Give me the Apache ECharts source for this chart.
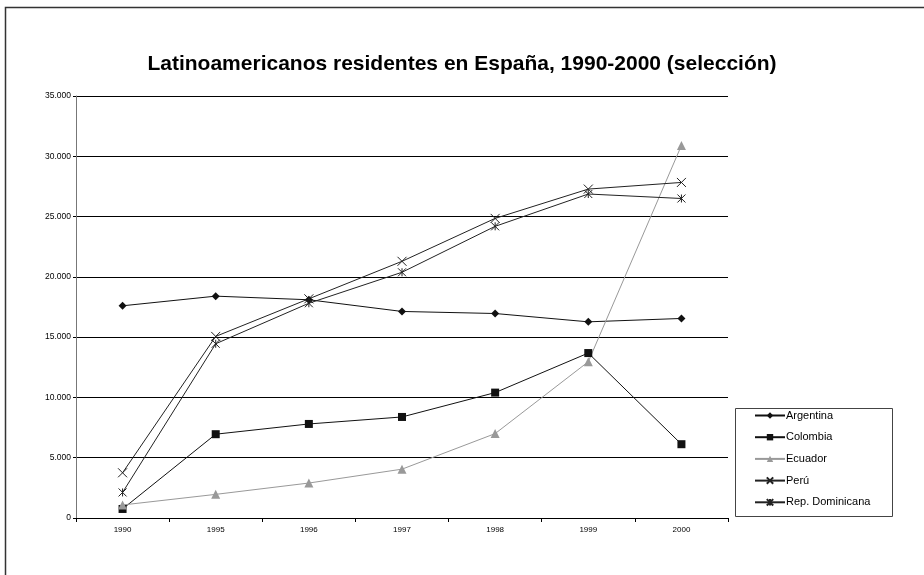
<!DOCTYPE html>
<html>
<head>
<meta charset="utf-8">
<script src="https://cdn.jsdelivr.net/npm/echarts@6/dist/echarts.min.js"></script>
<style>
html,body{margin:0;padding:0;background:#fff;}
#chart{width:924px;height:575px;}
</style>
</head>
<body>
<div id="chart"></div>
<script>
var years = ['1990','1995','1996','1997','1998','1999','2000'];
var argentina = [17600, 18400, 18100, 17130, 16960, 16270, 16550];
var colombia  = [750, 6950, 7800, 8380, 10400, 13680, 6120];
var ecuador   = [1080, 1960, 2900, 4050, 7000, 12960, 30900];
var peru      = [3750, 15060, 18180, 21290, 24850, 27280, 27830];
var repDom    = [2120, 14450, 17810, 20380, 24190, 26870, 26500];
var yTicks = [0, 5000, 10000, 15000, 20000, 25000, 30000, 35000];

var FONT = '"Liberation Sans", Arial, sans-serif';
var xPath = 'path://M0,0L10,10M10,0L0,10';
var starPath = 'path://M0,0L10,10M10,0L0,10M5,0L5,10';

function fmt(v){ return String(v).replace(/\B(?=(\d{3})+(?!\d))/g, '.'); }

function mk(name, data, color, symbol, size, stroke){
  return {
    name: name, type: 'line', data: data,
    symbol: symbol, symbolSize: size,
    lineStyle: {color: color, width: 1},
    itemStyle: stroke ? {color: 'rgba(0,0,0,0)', borderColor: color, borderWidth: 1} : {color: color, borderWidth: 0},
    animation: false
  };
}

var chart = echarts.init(document.getElementById('chart'));
chart.setOption({
  backgroundColor: '#fff',
  animation: false,
  title: {
    text: 'Latinoamericanos residentes en España, 1990-2000 (selección)',
    left: 'center', top: 49,
    textStyle: {fontFamily: FONT, fontSize: 21, fontWeight: 'bold', color: '#000'}
  },
  graphic: [
    {type: 'polyline', shape: {points: [[5.5, 580], [5.5, 7.5], [930, 7.5]]}, style: {stroke: '#333', lineWidth: 1.5, fill: null}},
    {type: 'rect', shape: {x: 735.5, y: 408.5, width: 157, height: 108}, style: {stroke: '#444', lineWidth: 1, fill: '#fff'}, z: 5}
  ],
  legend: {
    orient: 'vertical', left: 754, top: 410,
    itemWidth: 30, itemHeight: 8, itemGap: 10.7,
    padding: 0, z: 10,
    textStyle: {fontFamily: FONT, fontSize: 11, color: '#000', padding: [0,0,0,-4]},
    data: ['Argentina','Colombia','Ecuador','Perú','Rep. Dominicana']
  },
  grid: {left: 76, right: 196, top: 96, bottom: 57},
  xAxis: {
    type: 'category', data: years, boundaryGap: true,
    axisLine: {lineStyle: {color: '#000', width: 1}},
    axisTick: {show: true, interval: 0, length: 4, lineStyle: {color: '#000'}},
    axisLabel: {fontFamily: FONT, fontSize: 8, color: '#000', margin: 8, interval: 0}
  },
  yAxis: {
    type: 'value', min: yTicks[0], max: yTicks[yTicks.length-1], interval: 5000,
    axisLine: {show: true, lineStyle: {color: '#777', width: 1}},
    axisTick: {show: true, length: 3, lineStyle: {color: '#000'}},
    axisLabel: {fontFamily: FONT, fontSize: 8.5, color: '#000', margin: 5, formatter: fmt},
    splitLine: {show: true, lineStyle: {color: '#000', width: 1}}
  },
  series: [
    mk('Argentina', argentina, '#111', 'diamond', 8, false),
    mk('Colombia', colombia, '#111', 'rect', 8, false),
    mk('Ecuador', ecuador, '#999', 'triangle', 9, false),
    mk('Perú', peru, '#222', xPath, 9, true),
    mk('Rep. Dominicana', repDom, '#222', starPath, 8, true)
  ]
});
</script>
</body>
</html>
